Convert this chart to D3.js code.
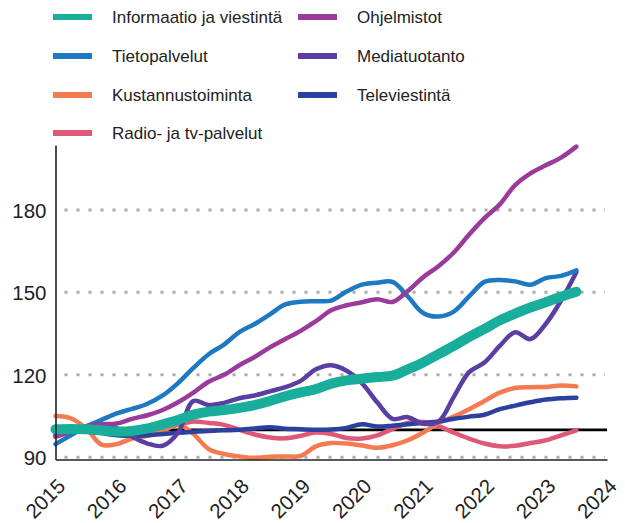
<!DOCTYPE html>
<html lang="fi">
    <head>
        <meta charset="utf-8">
        <title>Toimialojen liikevaihto</title>
        <script src="https://d3js.org/d3.v7.min.js"></script>
        <style type="text/css">
                body {
                    margin: 0;
                    background: #fff;
                }
                text {
                    font-family: "Liberation Sans", Arial, sans-serif;
                    fill: #222;
                }
                .legend text {
                    font-size: 17px;
                }
                .axis text {
                    font-size: 20.5px;
                }
         </style>
    </head>
    <body>
        <script type="text/javascript">
        var w = 625;
        var h = 523;

        // quarterly points, last one mid 2023
        var vuodet = [2015, 2015.25, 2015.5, 2015.75, 2016, 2016.25, 2016.5, 2016.75,
                      2017, 2017.25, 2017.5, 2017.75, 2018, 2018.25, 2018.5, 2018.75,
                      2019, 2019.25, 2019.5, 2019.75, 2020, 2020.25, 2020.5, 2020.75,
                      2021, 2021.25, 2021.5, 2021.75, 2022, 2022.25, 2022.5, 2022.75,
                      2023, 2023.25, 2023.5];

        var informaatio = [100.2, 100.3, 100.2, 99.8, 99.4, 99.6, 100.5, 102, 103.6, 105.5, 106.6, 107.2,
                           108, 109, 110.5, 112.2, 113.6, 114.8, 116.8, 118, 118.6, 119.2, 119.7, 122,
                           124.5, 127.5, 130.5, 133.8, 136.7, 139.8, 142.3, 144.5, 146.4, 148.4, 150.2];
        var tietopalvelut = [94.8, 98, 101.2, 103.6, 106, 107.6, 109.5, 112.5, 117, 122.5, 127.5, 131,
                             135.5, 138.5, 142, 145.6, 146.6, 146.8, 147, 150.3, 152.8, 153.5, 153.8, 148.5,
                             142.5, 141.2, 143, 148.5, 153.8, 154.5, 154, 152.8, 155.2, 156, 158];
        var kustannus = [105, 104.2, 100.5, 94.6, 94.8, 96.8, 97.8, 99.5, 102, 98.5, 93, 91.2,
                         90.3, 89.8, 90.2, 90.3, 90.5, 94, 95.2, 95, 94.3, 93.5, 94.4, 96.2,
                         99, 102.5, 104.8, 107.5, 110.5, 113.5, 115.2, 115.5, 115.6, 116.1, 115.8];
        var radiotv = [97.5, 99, 100, 100.3, 100, 99.6, 99.4, 100.3, 101.8, 103, 102.5, 101.8,
                       100, 98.3, 97.2, 96.9, 97.8, 99, 98.5, 97, 96.8, 98, 100.3, 102.5,
                       102.8, 101.3, 99, 96.8, 95, 94, 94.2, 95.2, 96.2, 98, 99.8];
        var ohjelmistot = [97.5, 99.5, 101.3, 102, 102.3, 104, 105.3, 107.2, 110, 113.5, 117.5, 120,
                           123.5, 126.5, 130, 133, 136, 139.5, 143.5, 145.3, 146.4, 147.5, 146.5, 150.5,
                           155.5, 159.5, 164.5, 171, 177, 182, 189, 193.3, 196.2, 199, 203];
        var mediatuotanto = [98, 99.5, 100.5, 100.8, 100.5, 97.5, 95, 94.2, 99, 110.5, 109, 109.8,
                             111.5, 112.5, 114, 115.5, 117.8, 122, 123.5, 121.5, 117, 110, 104, 104.6,
                             102.2, 103, 112, 121, 124.5, 130.5, 135.5, 133, 138.5, 147, 157.3];
        var televiestinta = [100, 100, 99.5, 98.8, 98, 97.8, 98, 98.5, 98.9, 99.3, 99.6, 99.8,
                             100, 100.5, 100.9, 100.4, 100.2, 100, 100.1, 100.7, 102, 101.2, 101.5, 102,
                             102.5, 103, 104, 104.8, 105.5, 107.5, 108.8, 110, 111, 111.5, 111.7];

        var ytikit = [90, 120, 150, 180];
        var xtikit = [2015, 2016, 2017, 2018, 2019, 2020, 2021, 2022, 2023, 2024];

        var sarjat = [
            {nimi: "Informaatio ja viestintä", arvot: informaatio, vari: "#19ad9c", lev: 10, sar: 0, riv: 0, jarj: 7},
            {nimi: "Tietopalvelut", arvot: tietopalvelut, vari: "#1f78c2", lev: 4.5, sar: 0, riv: 1, jarj: 5},
            {nimi: "Kustannustoiminta", arvot: kustannus, vari: "#f47a50", lev: 4.5, sar: 0, riv: 2, jarj: 2},
            {nimi: "Radio- ja tv-palvelut", arvot: radiotv, vari: "#e05877", lev: 4.5, sar: 0, riv: 3, jarj: 1},
            {nimi: "Ohjelmistot", arvot: ohjelmistot, vari: "#9a3b9b", lev: 4.5, sar: 1, riv: 0, jarj: 6},
            {nimi: "Mediatuotanto", arvot: mediatuotanto, vari: "#5a3ea1", lev: 4.5, sar: 1, riv: 1, jarj: 4},
            {nimi: "Televiestintä", arvot: televiestinta, vari: "#2c409d", lev: 4.5, sar: 1, riv: 2, jarj: 3}
        ];

        var svg = d3.select("body")
                .append("svg")
                .attr("width", w)
                .attr("height", h);

        var x = d3.scaleLinear().domain([2015, 2024]).range([55.5, 607]);
        var y = d3.scaleLinear().domain([89.2, 203.6]).range([459.5, 145]);

        // dotted gridlines
        svg.selectAll("line.grid")
                .data(ytikit)
                .enter()
                .append("line")
                .attr("class", "grid")
                .attr("x1", x(2015))
                .attr("x2", x(2024) - 2)
                .attr("y1", function(d) { return y(d); })
                .attr("y2", function(d) { return y(d); })
                .attr("stroke", "#aaa")
                .attr("stroke-width", 3)
                .attr("stroke-dasharray", "3,9")
                .attr("stroke-dashoffset", 3);

        // 100 reference line
        svg.append("line")
                .attr("x1", x(2015))
                .attr("x2", x(2024))
                .attr("y1", y(100))
                .attr("y2", y(100))
                .attr("stroke", "#000")
                .attr("stroke-width", 2.8);

        var viiva = d3.line()
                .x(function(d, i) { return x(vuodet[i]); })
                .y(function(d) { return y(d); })
                .curve(d3.curveCatmullRom.alpha(0.5));

        svg.selectAll("path.sarja")
                .data(sarjat.slice().sort(function(a, b) { return a.jarj - b.jarj; }))
                .enter()
                .append("path")
                .attr("class", "sarja")
                .attr("d", function(d) { return viiva(d.arvot); })
                .attr("fill", "none")
                .attr("stroke", function(d) { return d.vari; })
                .attr("stroke-width", function(d) { return d.lev; })
                .attr("stroke-linejoin", "round")
                .attr("stroke-linecap", "round");

        // axes
        var yAxis = svg.append("g")
                .attr("class", "axis")
                .attr("transform", "translate(" + x(2015) + ",0)")
                .call(d3.axisLeft(y).tickValues(ytikit).tickSize(0).tickPadding(9));
        yAxis.select(".domain").attr("stroke", "#222").attr("stroke-width", 1.6);
        yAxis.selectAll("text").attr("dy", "0.36em");

        var xAxis = svg.append("g")
                .attr("class", "axis")
                .attr("transform", "translate(0," + y.range()[0] + ")")
                .call(d3.axisBottom(x).tickValues(xtikit).tickFormat(d3.format("d")).tickSize(0));
        xAxis.select(".domain").attr("stroke", "#222").attr("stroke-width", 1.6);
        xAxis.selectAll("text")
                .attr("y", 0)
                .attr("dy", 0)
                .attr("text-anchor", "end")
                .attr("transform", "translate(10.5,28) rotate(-45)");

        // legend
        var leg = svg.append("g").attr("class", "legend");
        var rivit = [17, 56, 95, 133];
        var sarakkeet = [53, 298];

        var li = leg.selectAll("g")
                .data(sarjat)
                .enter()
                .append("g")
                .attr("transform", function(d) {
                    return "translate(" + sarakkeet[d.sar] + "," + rivit[d.riv] + ")";
                });
        li.append("line")
                .attr("x1", 0)
                .attr("x2", 39)
                .attr("stroke", function(d) { return d.vari; })
                .attr("stroke-width", 6);
        li.append("text")
                .attr("x", 59)
                .attr("dy", "0.35em")
                .text(function(d) { return d.nimi; });
        </script>
    </body>
</html>
